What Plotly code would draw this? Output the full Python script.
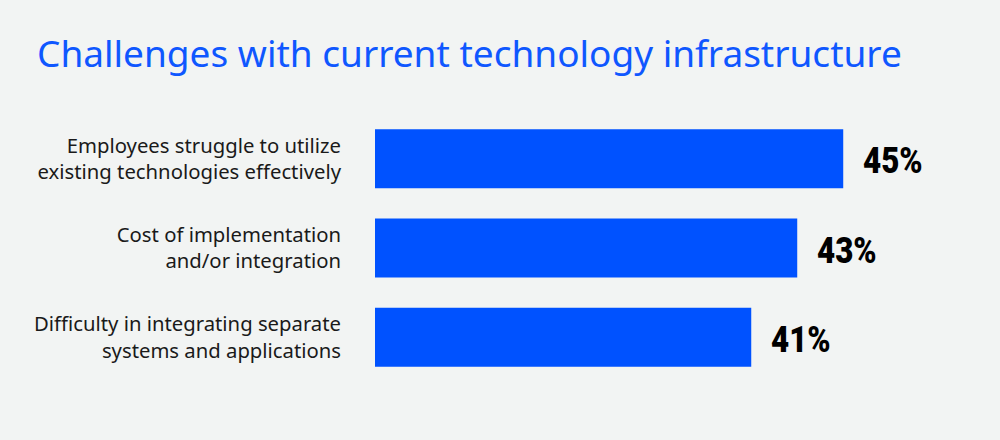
import plotly.graph_objects as go

categories = [
    "Employees struggle to utilize<br>existing technologies effectively",
    "Cost of implementation<br>and/or integration",
    "Difficulty in integrating separate<br>systems and applications",
]
values = [45, 43, 41]
value_labels = ["45%", "43%", "41%"]
title_text = "Challenges with current technology infrastructure"

BG = "#f2f4f3"
BLUE = "#0052ff"

fig = go.Figure(
    go.Bar(
        x=values,
        y=categories,
        orientation="h",
        marker=dict(color=BLUE, line=dict(width=0)),
        hoverinfo="skip",
    )
)

for v, c, t in zip(values, categories, value_labels):
    fig.add_annotation(
        x=v, y=c, text=t, showarrow=False, xanchor="left", yanchor="middle",
        xshift=18, yshift=-2,
        font=dict(family="Roboto, sans-serif", size=36.5, color="#000000", weight=900),
    )

fig.add_annotation(
    xref="paper", yref="paper", x=-0.567, y=1.0, yanchor="bottom", xanchor="left",
    text=title_text, showarrow=False, yshift=34,
    font=dict(family="Noto Sans, sans-serif", size=37, color="#0f57ff"),
)

fig.update_layout(
    width=1000, height=440,
    paper_bgcolor=BG, plot_bgcolor=BG,
    margin=dict(l=375, r=25, t=114, b=58, pad=0),
    bargap=0.34,
    showlegend=False,
    xaxis=dict(range=[24.64, 50.73], visible=False, fixedrange=True),
    yaxis=dict(
        autorange="reversed", showgrid=False, zeroline=False, showline=False,
        ticks="", ticklabelstandoff=33, fixedrange=True,
        tickfont=dict(family="Noto Sans, sans-serif", size=20.3, color="#1a1a1a"),
    ),
)

post = """
document.body.style.margin = '0';
document.querySelectorAll('.annotation-text').forEach(function(el){
  if (el.textContent.indexOf('%') >= 0) {
    el.style.transformBox = 'fill-box';
    el.style.transformOrigin = 'left center';
    el.style.transform = 'scaleX(0.86)';
  }
});
"""

fig.write_html("out.html", post_script=post, config={"displayModeBar": False})
